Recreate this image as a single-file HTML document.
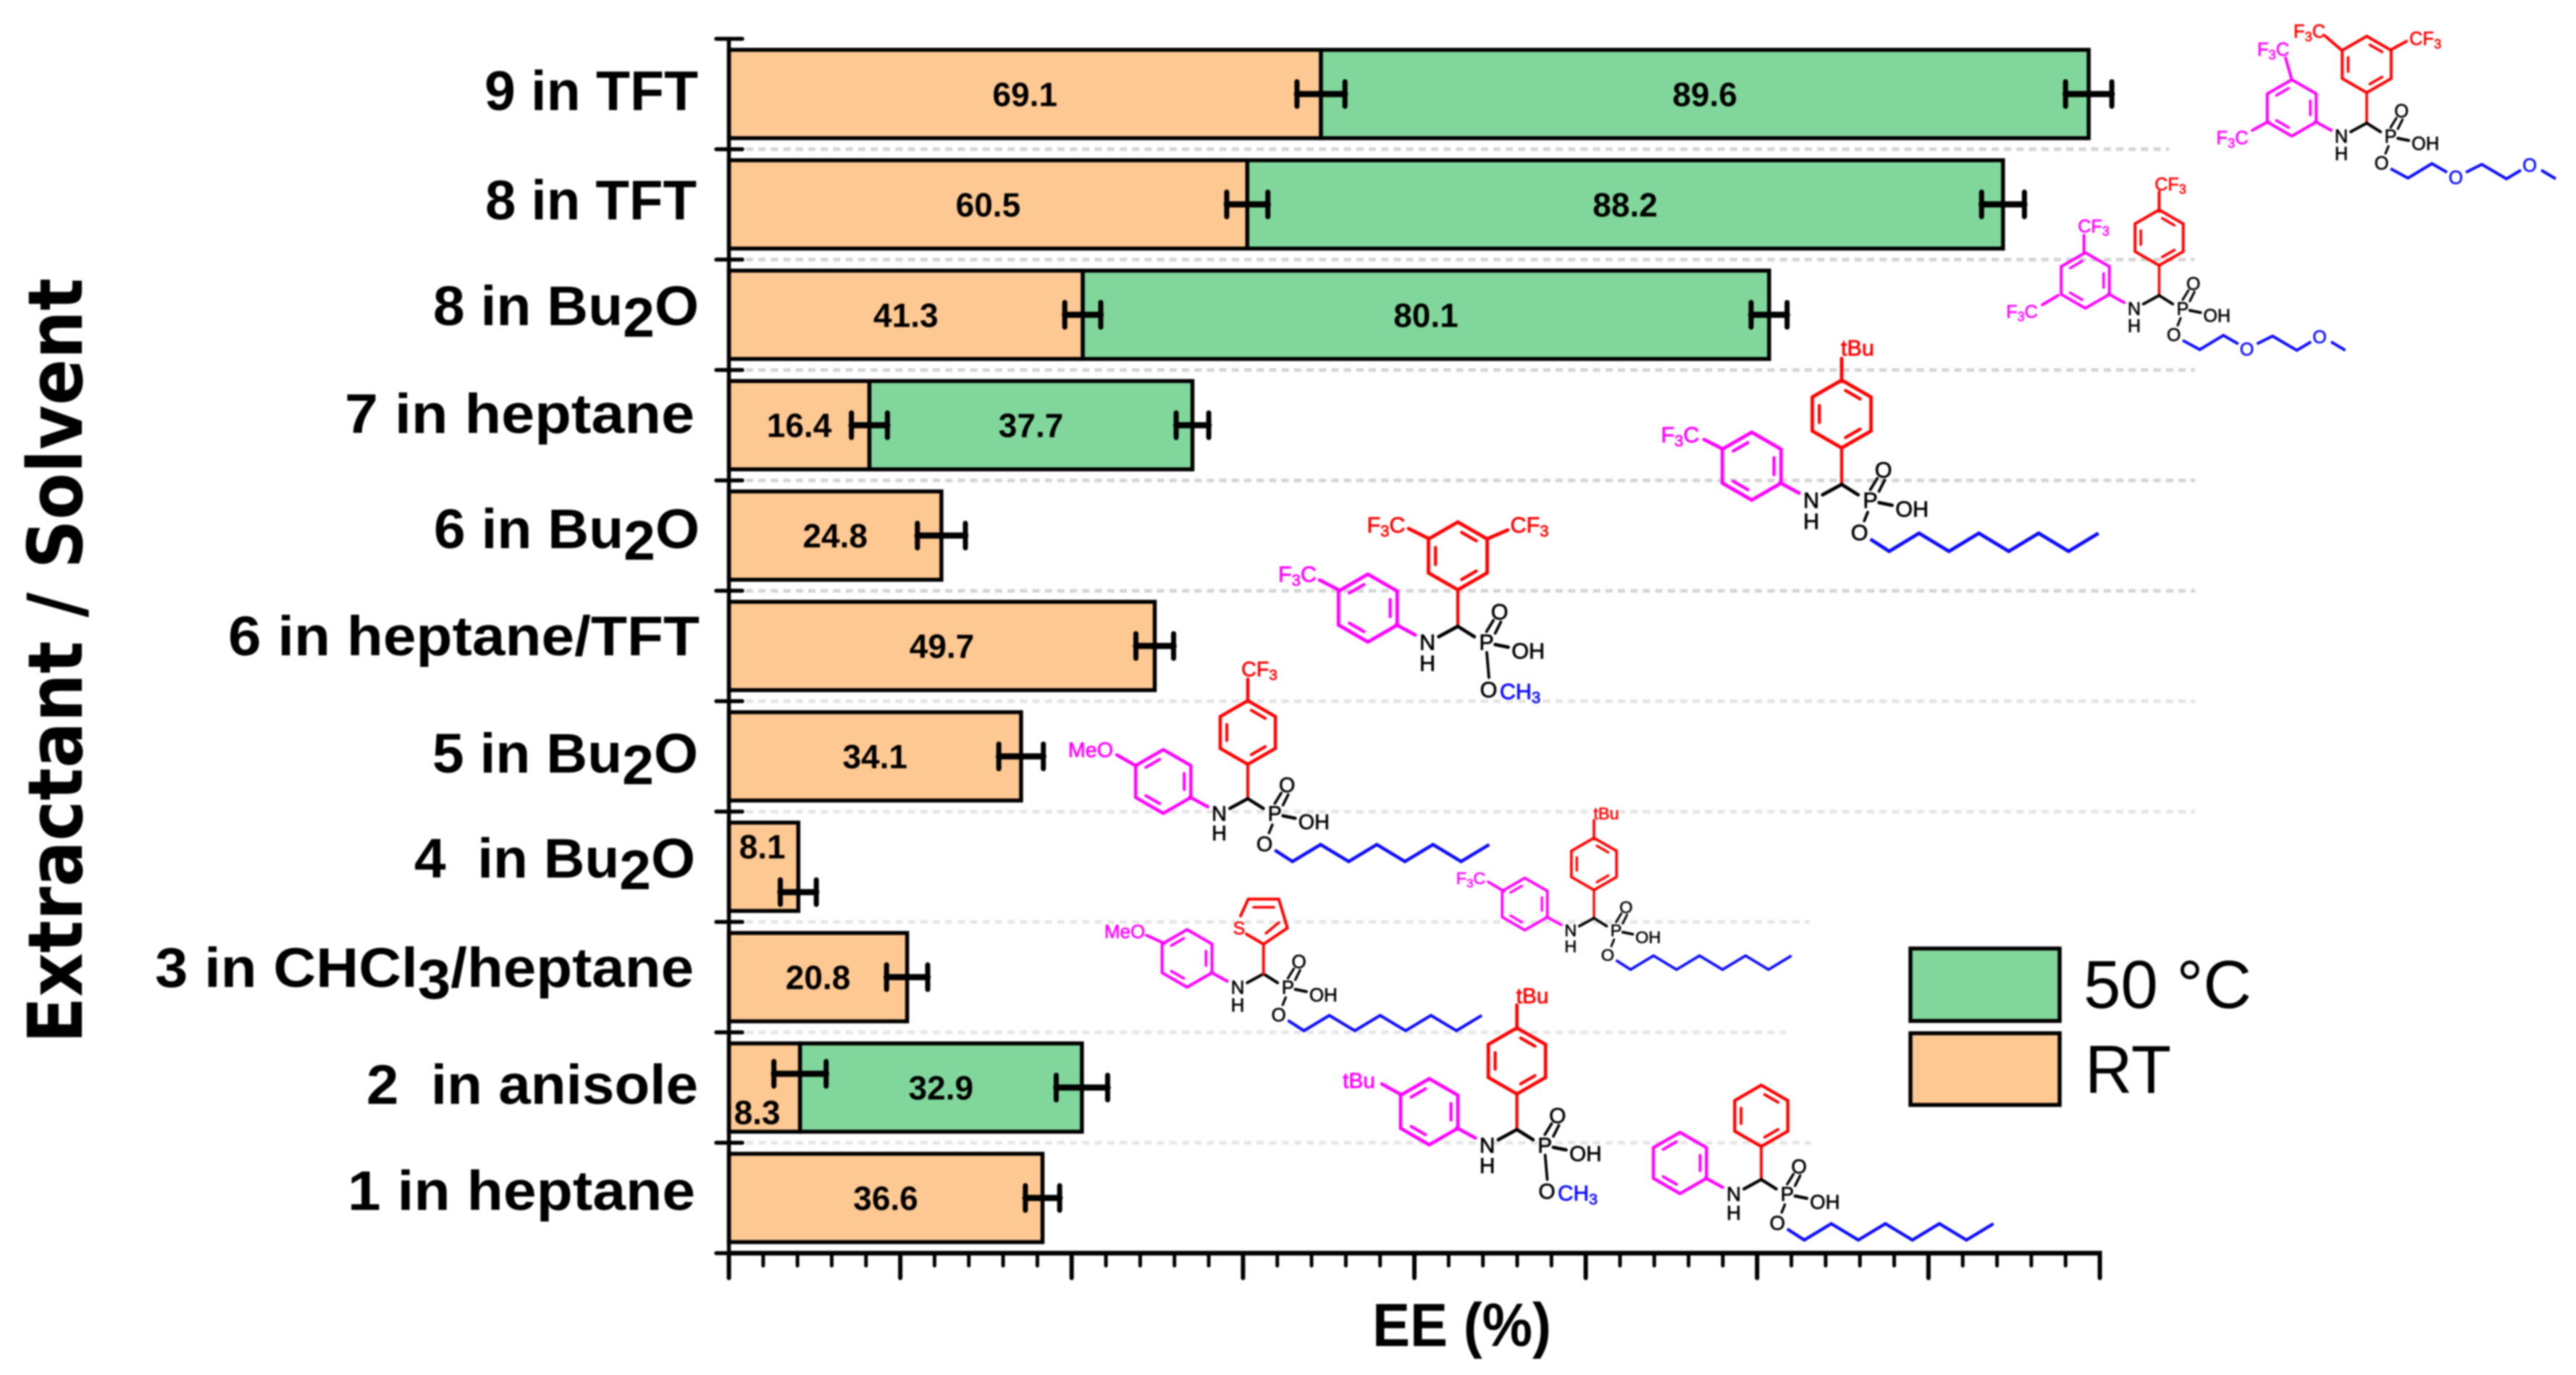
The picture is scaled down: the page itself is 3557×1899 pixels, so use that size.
<!DOCTYPE html>
<html lang="en">
<head>
<meta charset="utf-8">
<title>EE (%) by extractant and solvent</title>
<style>
html,body{margin:0;padding:0;background:#fff;}
svg{display:block;filter:blur(1px);}
text{font-family:"Liberation Sans",sans-serif;}
.cat{font-weight:bold;font-size:77px;fill:#000;}
.grid{stroke-width:5;stroke-dasharray:10 7.2;fill:none;}
</style>
</head>
<body>
<svg id="chart" xmlns="http://www.w3.org/2000/svg" width="3557" height="1899" viewBox="0 0 3557 1899">
  <rect x="0" y="0" width="3557" height="1899" fill="#fff"/>
  <g id="gridlines">
    <line class="grid" stroke="#d4d4d4" x1="1030" x2="2995" y1="206" y2="206"/>
    <line class="grid" stroke="#d4d4d4" x1="1030" x2="3030" y1="358.5" y2="358.5"/>
    <line class="grid" stroke="#d4d4d4" x1="1030" x2="3031" y1="511" y2="511"/>
    <line class="grid" stroke="#d4d4d4" x1="1030" x2="3031" y1="663.5" y2="663.5"/>
    <line class="grid" stroke="#d4d4d4" x1="1030" x2="3031" y1="816" y2="816"/>
    <line class="grid" stroke="#e4e4e4" x1="1030" x2="3031" y1="968.4" y2="968.4"/>
    <line class="grid" stroke="#e6e6e6" x1="1030" x2="3031" y1="1121" y2="1121"/>
    <line class="grid" stroke="#e6e6e6" x1="1030" x2="2499" y1="1273.3" y2="1273.3"/>
    <line class="grid" stroke="#e6e6e6" x1="1030" x2="2466" y1="1425.8" y2="1425.8"/>
    <line class="grid" stroke="#e6e6e6" x1="1030" x2="2501" y1="1578.2" y2="1578.2"/>
  </g>
  <g id="molecules"></g>
  <g id="bars"></g>
  <g id="axes"></g>
  <g id="errors"></g>
  <g id="values"></g>

  <g>
    <text class="cat" x="669" y="152" textLength="295" lengthAdjust="spacingAndGlyphs">9 in TFT</text>
    <text class="cat" x="670" y="303" textLength="292" lengthAdjust="spacingAndGlyphs">8 in TFT</text>
    <text class="cat" x="598" y="449" textLength="367" lengthAdjust="spacingAndGlyphs">8 in Bu<tspan dy="16">2</tspan><tspan dy="-16">O</tspan></text>
    <text class="cat" x="476" y="598" textLength="483" lengthAdjust="spacingAndGlyphs">7 in heptane</text>
    <text class="cat" x="599" y="757" textLength="367" lengthAdjust="spacingAndGlyphs">6 in Bu<tspan dy="16">2</tspan><tspan dy="-16">O</tspan></text>
    <text class="cat" x="315" y="905" textLength="651" lengthAdjust="spacingAndGlyphs">6 in heptane/TFT</text>
    <text class="cat" x="597" y="1067" textLength="367" lengthAdjust="spacingAndGlyphs">5 in Bu<tspan dy="16">2</tspan><tspan dy="-16">O</tspan></text>
    <text class="cat" x="572" y="1212" textLength="388" lengthAdjust="spacingAndGlyphs">4&#160; in Bu<tspan dy="16">2</tspan><tspan dy="-16">O</tspan></text>
    <text class="cat" x="214" y="1363" textLength="744" lengthAdjust="spacingAndGlyphs">3 in CHCl<tspan dy="16">3</tspan><tspan dy="-16">/heptane</tspan></text>
    <text class="cat" x="506" y="1524.5" textLength="458" lengthAdjust="spacingAndGlyphs">2&#160; in anisole</text>
    <text class="cat" x="480" y="1671" textLength="480" lengthAdjust="spacingAndGlyphs">1 in heptane</text>
  </g>

  <text transform="translate(113,1441) rotate(-90)" x="0" y="0" textLength="1057" lengthAdjust="spacingAndGlyphs" style="font-family:'DejaVu Sans',sans-serif;font-weight:bold;font-size:104px;">Extractant / Solvent</text>
  <text x="1895" y="1859" textLength="247" lengthAdjust="spacingAndGlyphs" style="font-weight:bold;font-size:84px;">EE (%)</text>

  <g>
    <rect x="2638" y="1310" width="206" height="100" fill="#81d79b" stroke="#000" stroke-width="5.5"/>
    <text x="2877" y="1392" textLength="232" lengthAdjust="spacingAndGlyphs" style="font-size:94px;">50 °C</text>
    <rect x="2638" y="1427" width="206" height="99" fill="#fec892" stroke="#000" stroke-width="5.5"/>
    <text x="2879" y="1509.5" textLength="119" lengthAdjust="spacingAndGlyphs" style="font-size:94px;">RT</text>
  </g>
</svg>

<script>
// ---- chart data (top to bottom) ----
const categories = ['9 in TFT','8 in TFT','8 in Bu2O','7 in heptane','6 in Bu2O','6 in heptane/TFT','5 in Bu2O','4 in Bu2O','3 in CHCl3/heptane','2 in anisole','1 in heptane'];
const rtValues = [69.1,60.5,41.3,16.4,24.8,49.7,34.1,8.1,20.8,8.3,36.6];
const heatedValues = [89.6,88.2,80.1,37.7,null,null,null,null,null,32.9,null];
const rtErrors = [2.8,2.4,2.1,2.1,2.8,2.2,2.6,2.1,2.4,3.05,2.0];
const heatedErrors = [2.7,2.5,2.1,1.9,null,null,null,null,null,3.0,null];
const xDomain = [0,160];
const xMajorStep = 20;
const xMinorStep = 4;

// ---- axis functions ----
const NS = 'http://www.w3.org/2000/svg';
const plot = {left:1006.5,right:2899.5,top:53.6,bottom:1730.7};
const band = (plot.bottom-plot.top)/categories.length;
const barH = 122;
function xScale(v){return plot.left+(v-xDomain[0])/(xDomain[1]-xDomain[0])*(plot.right-plot.left);}
function yCenter(i){return plot.top+band*(i+0.5);}
function mk(tag,attrs,parent){
  const el=document.createElementNS(NS,tag);
  for(const k in attrs){el.setAttribute(k,attrs[k]);}
  parent.appendChild(el);
  return el;
}
const gBars=document.getElementById('bars');
const gAxes=document.getElementById('axes');
const gErr=document.getElementById('errors');
const gVal=document.getElementById('values');
const gMol=document.getElementById('molecules');

function slug(s){return s.toLowerCase().replace(/[^a-z0-9]+/g,'-');}

function drawBar(i,from,to,fill,series){
  const r=mk('rect',{x:xScale(from),y:yCenter(i)-barH/2,width:xScale(to)-xScale(from),height:barH,fill:fill,stroke:'#000','stroke-width':5.5},gBars);
  
  
}
function drawErr(i,center,err,dy,series){
  const y=yCenter(i)+dy, a=xScale(center-err), b=xScale(center+err);
  const g=mk('g',{stroke:'#000',fill:'none','stroke-linecap':'round'},gErr);
  
  
  mk('line',{x1:a,x2:b,y1:y,y2:y,'stroke-width':8.5},g);
  mk('line',{x1:a,x2:a,y1:y-17,y2:y+17,'stroke-width':7},g);
  mk('line',{x1:b,x2:b,y1:y-17,y2:y+17,'stroke-width':7},g);
}
function drawValue(i,x,y,v,series){
  const t=mk('text',{x:x,y:y+16.5,'text-anchor':'middle','font-size':46,'font-weight':'bold',fill:'#000'},gVal);
  t.textContent=v.toFixed(1);
  
  
}

categories.forEach(function(c,i){
  const rt=rtValues[i], h=heatedValues[i];
  const rtCenter=xScale(rt/2);
  drawBar(i,0,rt,'#fec892','rt');
  if(h!==null){drawBar(i,rt,rt+h,'#81d79b','50c');}
  // small segments carry hand-placed annotations in the source figure
  let errDy=0, labelX=rtCenter, labelDy=0;
  if(c==='4 in Bu2O'){errDy=35;labelX=xScale(3.9);labelDy=-28;}
  if(c==='2 in anisole'){errDy=-19;labelX=xScale(3.3);labelDy=34;}
  drawErr(i,rt,rtErrors[i],errDy,'rt');
  if(h!==null){drawErr(i,rt+h,heatedErrors[i],0,'50c');}
  drawValue(i,labelX,yCenter(i)+labelDy,rt,'rt');
  if(h!==null){drawValue(i,xScale(rt+h/2),yCenter(i),h,'50c');}
});

// axes
const yAxis=mk('line',{x1:plot.left,x2:plot.left,y1:plot.top,y2:plot.bottom,stroke:'#000','stroke-width':5.5},gAxes);


const xAxis=mk('line',{x1:plot.left-2,x2:plot.right+3,y1:plot.bottom,y2:plot.bottom,stroke:'#000','stroke-width':6.5},gAxes);


for(let i=0;i<=categories.length;i++){
  const y=plot.top+band*i;
  const t=mk('line',{x1:989,x2:1025,y1:y,y2:y,stroke:'#000','stroke-width':5.5,'stroke-linecap':'round'},gAxes);
  
  
}
for(let v=xDomain[0];v<=xDomain[1];v+=xMinorStep){
  const major=(v%xMajorStep===0);
  const t=mk('line',{x1:xScale(v),x2:xScale(v),y1:plot.bottom,y2:major?1765:1748,stroke:'#000','stroke-width':major?6:5,'stroke-linecap':'round'},gAxes);
  
  
}

// ---- chemical structures (illustrations, not chart data) ----
const RED='#ff0000', MAG='#ff00ff', BLUE='#0a0aff', BLK='#000';
function bond(p,x1,y1,x2,y2,col,w){
  const l=mk('line',{x1:x1,y1:y1,x2:x2,y2:y2,stroke:col,'stroke-width':w,'stroke-linecap':'round'},p);
  
  
}
function chem(p,x,y,str,col,size){
  // digits are rendered as subscripts; x,y is the visual centre
  const t=mk('text',{x:x,y:y+size*0.36,'text-anchor':'middle','font-size':size,fill:col,stroke:col,'stroke-width':size*0.025},p);
  str.split(/(\d)/).forEach(function(part){
    if(!part){return;}
    const sp=mk('tspan',/\d/.test(part)?{'font-size':size*0.72,dy:size*0.18}:{dy:t.childNodes.length?-size*0.18:0},t);
    sp.textContent=part;
  });
  
  
  return t;
}
function ring(p,cx,cy,r,col,w,pairs){
  const pts=[];
  for(let k=0;k<6;k++){const a=(-90+60*k)*Math.PI/180;pts.push([cx+r*Math.cos(a),cy+r*Math.sin(a)]);}
  const pg=mk('polygon',{points:pts.map(function(q){return q.join(',');}).join(' '),fill:'none',stroke:col,'stroke-width':w,'stroke-linejoin':'miter'},p);
  
  
  pairs.forEach(function(pr){
    const a=pts[pr[0]],b=pts[pr[1]],f=0.76,tr=0.17;
    const ax=cx+(a[0]-cx)*f,ay=cy+(a[1]-cy)*f,bx=cx+(b[0]-cx)*f,by=cy+(b[1]-cy)*f;
    bond(p,ax+(bx-ax)*tr,ay+(by-ay)*tr,bx-(bx-ax)*tr,by-(by-ay)*tr,col,w*0.9);
  });
}
const RED_D=[[0,1],[2,3],[4,5]], MAG_D=[[5,0],[1,2],[3,4]];
function molecule(name,cx,cy,s,opt){
  const g=mk('g',{},gMol);
  
  
  const w=4.0*s, fs=25.5*s;
  const X=function(v){return cx+v*s;}, Y=function(v){return cy+v*s;};
  if(!opt.noRedRing){
    ring(g,X(0),Y(-81),39*s,RED,w,RED_D);
    bond(g,X(0),Y(-42),X(0),Y(0),RED,w*0.9);
  }
  ring(g,X(-103.5),Y(-21),39*s,MAG,w,MAG_D);
  bond(g,X(-71),Y(-2),X(-49),Y(10),MAG,w);
  bond(g,X(-22),Y(12),X(0),Y(0),BLK,w);
  bond(g,X(0),Y(0),X(19),Y(12),BLK,w);
  chem(g,X(-35),Y(18),'N',BLK,fs);
  chem(g,X(-35),Y(42),'H',BLK,fs);
  chem(g,X(33),Y(18),'P',BLK,fs);
  chem(g,X(48),Y(-17),'O',BLK,fs);
  bond(g,X(33),Y(6),X(41),Y(-7),BLK,w*0.8);
  bond(g,X(43),Y(8),X(49.5),Y(-5),BLK,w*0.8);
  bond(g,X(43),Y(21),X(58),Y(24),BLK,w);
  chem(g,X(81),Y(28),'OH',BLK,fs);
  if(opt.chain==='methoxy'){
    bond(g,X(33.3),Y(30),X(35.8),Y(59),BLK,w*0.8);
    chem(g,X(35.4),Y(72.6),'O',BLK,fs);
    chem(g,X(71.7),Y(74.5),'CH3',BLUE,fs);
  } else {
    bond(g,X(30),Y(32),X(26),Y(42),BLK,w*0.8);
    chem(g,X(20.5),Y(55),'O',BLK,fs);
  }
  if(opt.chain==='octyl'){
    const pts=[[X(33),Y(63)],[X(54.7),Y(77)]];
    for(let k=0;k<7;k++){pts.push([X(54.7+34.4*(k+1)),Y(k%2===0?56.2:77)]);}
    const pl=mk('polyline',{points:pts.map(function(q){return q.join(',');}).join(' '),fill:'none',stroke:BLUE,'stroke-width':w,'stroke-linejoin':'miter'},g);
    
    
  }
  if(opt.chain==='peg'){
    const segs=[[[33,63],[57,76],[90,56],[111,68]],[[137,68],[159,57],[193,77],[213,65]],[[241,65],[261,77]]];
    segs.forEach(function(sg){
      const pl=mk('polyline',{points:sg.map(function(q){return X(q[0])+','+Y(q[1]);}).join(' '),fill:'none',stroke:BLUE,'stroke-width':w},g);
      
      
    });
    chem(g,X(123),Y(75),'O',BLUE,fs);
    chem(g,X(225),Y(58),'O',BLUE,fs);
  }
  (opt.bonds||[]).forEach(function(b){bond(g,b[0],b[1],b[2],b[3],b[4],w);});
  (opt.labels||[]).forEach(function(l){chem(g,l[0],l[1],l[2],l[3],l[4]||fs);});
  return g;
}

molecule('structure-9',3268,170,1,{chain:'peg',
  bonds:[[3211,50,3233,69,RED],[3301,69,3323,57,RED],[3164.5,110,3156,80,MAG],[3132,168,3110,180,MAG]],
  labels:[[3189,43,'F3C',RED],[3349,53,'CF3',RED],[3139,68,'F3C',MAG],[3082.5,190,'F3C',MAG]]});
molecule('structure-8',2981.4,408,0.985,{chain:'peg',
  bonds:[[2981.4,292,2981.4,265,RED],[2877.6,350,2877.6,325,MAG],[2842,408,2820,421,MAG]],
  labels:[[2997,254,'CF3',RED],[2891,312,'CF3',MAG],[2792,430,'F3C',MAG]]});
molecule('structure-7',2543,669,1.2,{chain:'octyl',
  bonds:[[2543,527,2543,495,RED],[2378.6,620,2353,607,MAG]],
  labels:[[2565,480,'tBu',RED],[2320,600,'F3C',MAG]]});
molecule('structure-6',2013,865,1.2,{chain:'methoxy',
  bonds:[[1973,744,1945,730,RED],[2054,744,2082,732,RED],[1850.6,815.7,1822,801,MAG]],
  labels:[[1914,724.6,'F3C',RED],[2112,724.6,'CF3',RED],[1791.5,792.5,'F3C',MAG]]});
molecule('structure-5',1723,1103,1.128,{chain:'octyl',
  bonds:[[1723,969,1723,938,RED],[1569,1058,1542,1042.5,MAG]],
  labels:[[1739,923.6,'CF3',RED],[1506,1035,'MeO',MAG]]});
molecule('structure-4',2201,1268,0.923,{chain:'octyl',
  bonds:[[2201,1159,2201,1133,RED],[2076.7,1231,2055,1218,MAG]],
  labels:[[2218,1123,'tBu',RED],[2031,1212.7,'F3C',MAG]]});
const thio=molecule('structure-3',1744.7,1345,1.02,{chain:'octyl',noRedRing:true,
  bonds:[[1583,1291.7,1608,1303,MAG]],
  labels:[[1553,1286,'MeO',MAG]]});
bond(thio,1744.7,1304,1744.7,1345,RED,3.8);
bond(thio,1744.7,1304,1721,1290,RED,4);
bond(thio,1713,1265,1723.7,1241.7,RED,4);
bond(thio,1723.7,1241.7,1765.8,1241.7,RED,4);
bond(thio,1765.8,1241.7,1777.7,1281.7,RED,4);
bond(thio,1777.7,1281.7,1744.7,1304,RED,4);
bond(thio,1731,1253,1759,1253,RED,3.6);
bond(thio,1766,1274,1748,1289,RED,3.6);
chem(thio,1711,1281.7,'S',RED,25);
molecule('structure-2',2094.6,1560,1.17,{chain:'methoxy',
  bonds:[[2094.6,1421,2094.6,1388,RED],[1935,1512,1908,1497,MAG]],
  labels:[[2116,1375,'tBu',RED],[1876.5,1491.7,'tBu',MAG]]});
molecule('structure-1',2432,1629,1.085,{chain:'octyl'});
</script>
</body>
</html>
